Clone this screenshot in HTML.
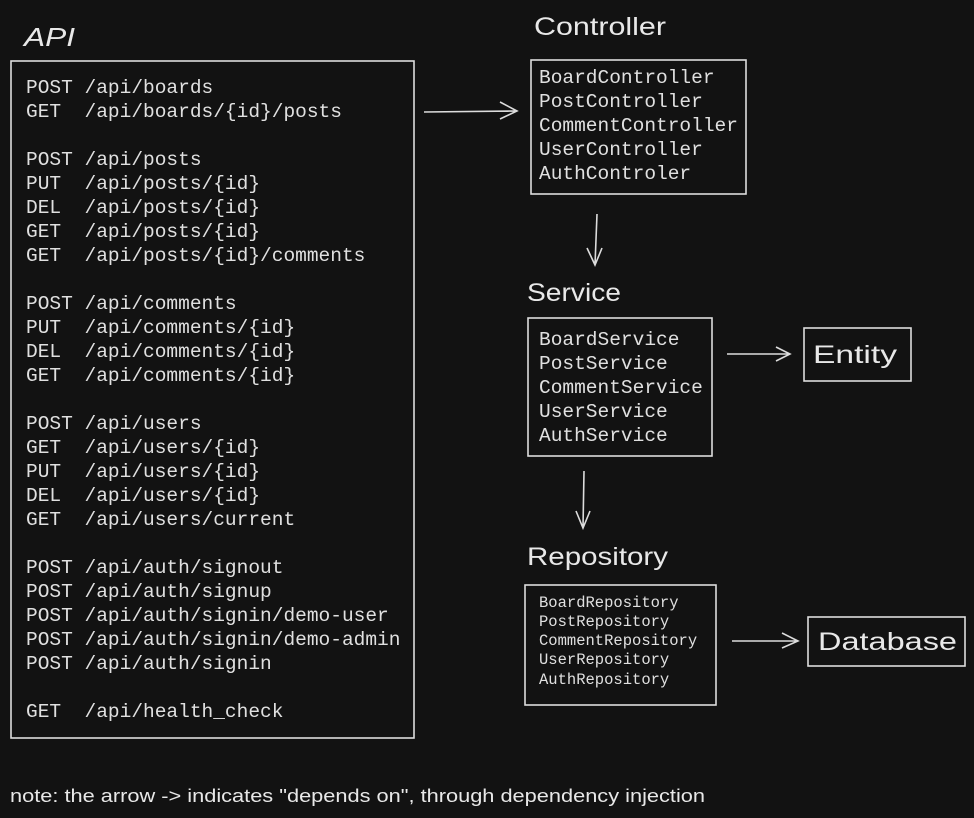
<!DOCTYPE html>
<html><head><meta charset="utf-8"><style>
html,body{margin:0;padding:0;background:#121212;}
svg{display:block}
.m{font-family:"Liberation Mono",monospace;fill:#e0e0e0;white-space:pre;}
.h{font-family:"Liberation Sans",sans-serif;fill:#e8e8e8;}
</style></head><body>
<svg width="974" height="818" xmlns="http://www.w3.org/2000/svg">
<rect width="974" height="818" fill="#121212"/>
<g fill="none" stroke="#dcdcdc" stroke-width="1.6">
<rect x="11" y="61" width="403" height="677"/>
<rect x="531" y="60" width="215" height="134"/>
<rect x="528" y="318" width="184" height="138"/>
<rect x="804" y="328" width="107" height="53"/>
<rect x="525" y="585" width="191" height="120"/>
<rect x="808" y="617" width="157" height="49"/>
<path d="M424 112 L517 111 M500 102 L517 111 L500 119"/>
<path d="M597 214 L595 265 M587 248 L595 265 L602 248"/>
<path d="M727 354 L790 354 M776 347 L790 354 L776 361"/>
<path d="M584 471 L583 528 M576 511 L583 528 L590 511"/>
<path d="M732 641 L798 641 M782 633 L798 641 L782 648"/>
</g>
<text class="h" x="24" y="46" font-size="26" font-style="italic" textLength="51" lengthAdjust="spacingAndGlyphs">API</text>
<text class="h" x="534" y="35" font-size="25" textLength="132" lengthAdjust="spacingAndGlyphs">Controller</text>
<text class="h" x="527" y="301" font-size="25" textLength="94" lengthAdjust="spacingAndGlyphs">Service</text>
<text class="h" x="527" y="565" font-size="25" textLength="141" lengthAdjust="spacingAndGlyphs">Repository</text>
<text class="h" x="813" y="363" font-size="25" textLength="84" lengthAdjust="spacingAndGlyphs">Entity</text>
<text class="h" x="818" y="650" font-size="25" textLength="139" lengthAdjust="spacingAndGlyphs">Database</text>
<text class="h" x="10" y="802" font-size="18" textLength="695" lengthAdjust="spacingAndGlyphs">note: the arrow -&gt; indicates "depends on", through dependency injection</text>
<g class="m" font-size="19.5">
<text x="26" y="93">POST /api/boards</text>
<text x="26" y="117">GET&#160; /api/boards/{id}/posts</text>
<text x="26" y="165">POST /api/posts</text>
<text x="26" y="189">PUT&#160; /api/posts/{id}</text>
<text x="26" y="213">DEL&#160; /api/posts/{id}</text>
<text x="26" y="237">GET&#160; /api/posts/{id}</text>
<text x="26" y="261">GET&#160; /api/posts/{id}/comments</text>
<text x="26" y="309">POST /api/comments</text>
<text x="26" y="333">PUT&#160; /api/comments/{id}</text>
<text x="26" y="357">DEL&#160; /api/comments/{id}</text>
<text x="26" y="381">GET&#160; /api/comments/{id}</text>
<text x="26" y="429">POST /api/users</text>
<text x="26" y="453">GET&#160; /api/users/{id}</text>
<text x="26" y="477">PUT&#160; /api/users/{id}</text>
<text x="26" y="501">DEL&#160; /api/users/{id}</text>
<text x="26" y="525">GET&#160; /api/users/current</text>
<text x="26" y="573">POST /api/auth/signout</text>
<text x="26" y="597">POST /api/auth/signup</text>
<text x="26" y="621">POST /api/auth/signin/demo-user</text>
<text x="26" y="645">POST /api/auth/signin/demo-admin</text>
<text x="26" y="669">POST /api/auth/signin</text>
<text x="26" y="717">GET&#160; /api/health_check</text>
<text x="539" y="83">BoardController</text>
<text x="539" y="107">PostController</text>
<text x="539" y="131">CommentController</text>
<text x="539" y="155">UserController</text>
<text x="539" y="179">AuthControler</text>
<text x="539" y="345">BoardService</text>
<text x="539" y="369">PostService</text>
<text x="539" y="393">CommentService</text>
<text x="539" y="417">UserService</text>
<text x="539" y="441">AuthService</text>
</g>
<g class="m" font-size="15.5">
<text x="539" y="607">BoardRepository</text>
<text x="539" y="626">PostRepository</text>
<text x="539" y="645">CommentRepository</text>
<text x="539" y="664">UserRepository</text>
<text x="539" y="684">AuthRepository</text>
</g>
</svg>
</body></html>
